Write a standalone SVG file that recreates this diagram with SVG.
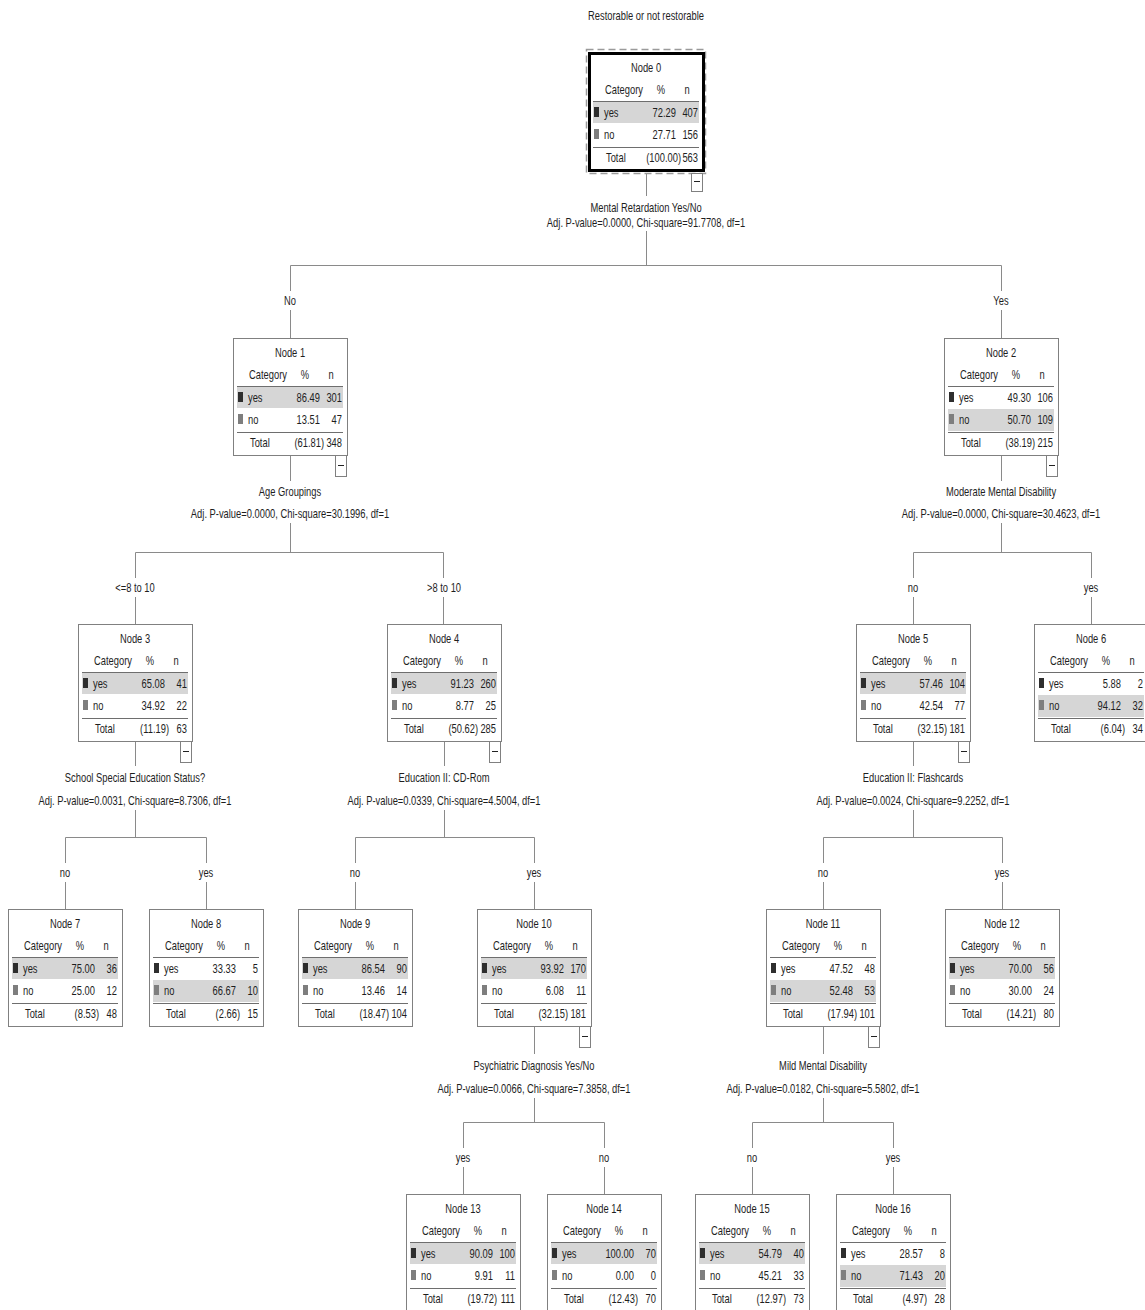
<svg xmlns="http://www.w3.org/2000/svg" width="1145" height="1310" viewBox="0 0 1145 1310">
<style>
text{font-family:"Liberation Sans",Arial,sans-serif;font-size:13px;fill:#1e1e1e}
.m{text-anchor:middle}
.e{text-anchor:end}
.box{fill:#fff;stroke:#808080;stroke-width:1}
.band{fill:#d6d6d6}
.sep{stroke:#6e6e6e;stroke-width:1;fill:none}
.mk1{fill:#2e2e2e}
.mk2{fill:#7e7e7e}
.col{fill:#fff;stroke:#808080;stroke-width:1}
.minus{stroke:#222;stroke-width:1;fill:none}
#connectors path{stroke:#8a8a8a;stroke-width:1;fill:none}
</style>
<rect width="1145" height="1310" fill="#fff"/>
<text class="m" transform="translate(646 19.5) scale(.72 1)">Restorable or not restorable</text>

<g id="connectors">
<path d="M646.5 173V196M646.5 231V265.5M290.5 265.5H1001.5M290.5 265.5V291M290.5 310V338M1001.5 265.5V291M1001.5 310V338"/>
<path d="M290.5 456V481M290.5 523V552.5M135.5 552.5H443.5M135.5 552.5V578M135.5 597V624M443.5 552.5V578M443.5 597V624"/>
<path d="M1001.5 456V481M1001.5 523V552.5M913.5 552.5H1091.5M913.5 552.5V578M913.5 597V624M1091.5 552.5V578M1091.5 597V624"/>
<path d="M135.5 741V766M135.5 810V837.5M65.5 837.5H206.5M65.5 837.5V863M65.5 882V909M206.5 837.5V863M206.5 882V909"/>
<path d="M444.5 741V766M444.5 810V837.5M355.5 837.5H534.5M355.5 837.5V863M355.5 882V909M534.5 837.5V863M534.5 882V909"/>
<path d="M913.5 741V766M913.5 810V837.5M823.5 837.5H1002.5M823.5 837.5V863M823.5 882V909M1002.5 837.5V863M1002.5 882V909"/>
<path d="M534.5 1026V1054M534.5 1098V1122.5M463.5 1122.5H604.5M463.5 1122.5V1148M463.5 1167V1194M604.5 1122.5V1148M604.5 1167V1194"/>
<path d="M823.5 1026V1054M823.5 1098V1122.5M752.5 1122.5H893.5M752.5 1122.5V1148M752.5 1167V1194M893.5 1122.5V1148M893.5 1167V1194"/>
<text class="m" transform="translate(646 211.5) scale(.72 1)">Mental Retardation Yes/No</text>
<text class="m" transform="translate(646 226.5) scale(.72 1)">Adj. P-value=0.0000, Chi-square=91.7708, df=1</text>
<text class="m" transform="translate(290 304.5) scale(.72 1)">No</text>
<text class="m" transform="translate(1001 304.5) scale(.72 1)">Yes</text>
<text class="m" transform="translate(290 495.5) scale(.72 1)">Age Groupings</text>
<text class="m" transform="translate(290 517.5) scale(.72 1)">Adj. P-value=0.0000, Chi-square=30.1996, df=1</text>
<text class="m" transform="translate(135 591.5) scale(.72 1)">&lt;=8 to 10</text>
<text class="m" transform="translate(444 591.5) scale(.72 1)">&gt;8 to 10</text>
<text class="m" transform="translate(1001 495.5) scale(.72 1)">Moderate Mental Disability</text>
<text class="m" transform="translate(1001 517.5) scale(.72 1)">Adj. P-value=0.0000, Chi-square=30.4623, df=1</text>
<text class="m" transform="translate(913 591.5) scale(.72 1)">no</text>
<text class="m" transform="translate(1091 591.5) scale(.72 1)">yes</text>
<text class="m" transform="translate(135 781.5) scale(.72 1)">School Special Education Status?</text>
<text class="m" transform="translate(135 804.5) scale(.72 1)">Adj. P-value=0.0031, Chi-square=8.7306, df=1</text>
<text class="m" transform="translate(65 876.5) scale(.72 1)">no</text>
<text class="m" transform="translate(206 876.5) scale(.72 1)">yes</text>
<text class="m" transform="translate(444 781.5) scale(.72 1)">Education II: CD-Rom</text>
<text class="m" transform="translate(444 804.5) scale(.72 1)">Adj. P-value=0.0339, Chi-square=4.5004, df=1</text>
<text class="m" transform="translate(355 876.5) scale(.72 1)">no</text>
<text class="m" transform="translate(534 876.5) scale(.72 1)">yes</text>
<text class="m" transform="translate(913 781.5) scale(.72 1)">Education II: Flashcards</text>
<text class="m" transform="translate(913 804.5) scale(.72 1)">Adj. P-value=0.0024, Chi-square=9.2252, df=1</text>
<text class="m" transform="translate(823 876.5) scale(.72 1)">no</text>
<text class="m" transform="translate(1002 876.5) scale(.72 1)">yes</text>
<text class="m" transform="translate(534 1069.5) scale(.72 1)">Psychiatric Diagnosis Yes/No</text>
<text class="m" transform="translate(534 1092.5) scale(.72 1)">Adj. P-value=0.0066, Chi-square=7.3858, df=1</text>
<text class="m" transform="translate(463 1161.5) scale(.72 1)">yes</text>
<text class="m" transform="translate(604 1161.5) scale(.72 1)">no</text>
<text class="m" transform="translate(823 1069.5) scale(.72 1)">Mild Mental Disability</text>
<text class="m" transform="translate(823 1092.5) scale(.72 1)">Adj. P-value=0.0182, Chi-square=5.5802, df=1</text>
<text class="m" transform="translate(752 1161.5) scale(.72 1)">no</text>
<text class="m" transform="translate(893 1161.5) scale(.72 1)">yes</text>
</g>

<g id="node0" transform="translate(589 53)">
<rect x="-2.5" y="-3.5" width="119" height="124" fill="#fff" stroke="#9a9a9a" stroke-width="1.5" stroke-dasharray="7 4"/>
<rect x="0.5" y="0.5" width="114" height="117" fill="#fff" stroke="#000" stroke-width="3"/>
<rect class="band" x="4" y="48" width="106" height="22"/>
<path class="sep" d="M4 48.5H110M4 94.5H110"/>
<rect class="mk1" x="5" y="54" width="5" height="10"/><rect class="mk2" x="5" y="76" width="5" height="10"/>
<text class="m" transform="translate(57 18.5) scale(.72 1)">Node 0</text>
<text transform="translate(16 40.5) scale(.72 1)">Category</text>
<text class="m" transform="translate(72 40.5) scale(.72 1)">%</text>
<text class="m" transform="translate(98 40.5) scale(.72 1)">n</text>
<text transform="translate(15 63.5) scale(.72 1)">yes</text>
<text class="e" transform="translate(87 63.5) scale(.72 1)">72.29</text>
<text class="e" transform="translate(109 63.5) scale(.72 1)">407</text>
<text transform="translate(15 85.5) scale(.72 1)">no</text>
<text class="e" transform="translate(87 85.5) scale(.72 1)">27.71</text>
<text class="e" transform="translate(109 85.5) scale(.72 1)">156</text>
<text transform="translate(17 108.5) scale(.72 1)">Total</text>
<text class="e" transform="translate(92 108.5) scale(.72 1)">(100.00)</text>
<text class="e" transform="translate(109 108.5) scale(.72 1)">563</text>
<rect class="col" x="102.5" y="120.5" width="11" height="18"/><path class="minus" d="M105 128.5H111"/>
</g>

<g id="node1" transform="translate(233 338)">
<rect class="box" x="0.5" y="0.5" width="114" height="117"/>
<rect class="band" x="4" y="48" width="106" height="22"/>
<path class="sep" d="M4 48.5H110M4 94.5H110"/>
<rect class="mk1" x="5" y="54" width="5" height="10"/><rect class="mk2" x="5" y="76" width="5" height="10"/>
<text class="m" transform="translate(57 18.5) scale(.72 1)">Node 1</text>
<text transform="translate(16 40.5) scale(.72 1)">Category</text>
<text class="m" transform="translate(72 40.5) scale(.72 1)">%</text>
<text class="m" transform="translate(98 40.5) scale(.72 1)">n</text>
<text transform="translate(15 63.5) scale(.72 1)">yes</text>
<text class="e" transform="translate(87 63.5) scale(.72 1)">86.49</text>
<text class="e" transform="translate(109 63.5) scale(.72 1)">301</text>
<text transform="translate(15 85.5) scale(.72 1)">no</text>
<text class="e" transform="translate(87 85.5) scale(.72 1)">13.51</text>
<text class="e" transform="translate(109 85.5) scale(.72 1)">47</text>
<text transform="translate(17 108.5) scale(.72 1)">Total</text>
<text class="e" transform="translate(91 108.5) scale(.72 1)">(61.81)</text>
<text class="e" transform="translate(109 108.5) scale(.72 1)">348</text>
<rect class="col" x="102.5" y="117.5" width="11" height="21"/><path class="minus" d="M105 127.5H111"/>
</g>

<g id="node2" transform="translate(944 338)">
<rect class="box" x="0.5" y="0.5" width="114" height="117"/>
<rect class="band" x="4" y="71" width="106" height="22"/>
<path class="sep" d="M4 48.5H110M4 94.5H110"/>
<rect class="mk1" x="5" y="54" width="5" height="10"/><rect class="mk2" x="5" y="76" width="5" height="10"/>
<text class="m" transform="translate(57 18.5) scale(.72 1)">Node 2</text>
<text transform="translate(16 40.5) scale(.72 1)">Category</text>
<text class="m" transform="translate(72 40.5) scale(.72 1)">%</text>
<text class="m" transform="translate(98 40.5) scale(.72 1)">n</text>
<text transform="translate(15 63.5) scale(.72 1)">yes</text>
<text class="e" transform="translate(87 63.5) scale(.72 1)">49.30</text>
<text class="e" transform="translate(109 63.5) scale(.72 1)">106</text>
<text transform="translate(15 85.5) scale(.72 1)">no</text>
<text class="e" transform="translate(87 85.5) scale(.72 1)">50.70</text>
<text class="e" transform="translate(109 85.5) scale(.72 1)">109</text>
<text transform="translate(17 108.5) scale(.72 1)">Total</text>
<text class="e" transform="translate(91 108.5) scale(.72 1)">(38.19)</text>
<text class="e" transform="translate(109 108.5) scale(.72 1)">215</text>
<rect class="col" x="102.5" y="117.5" width="11" height="21"/><path class="minus" d="M105 127.5H111"/>
</g>

<g id="node3" transform="translate(78 624)">
<rect class="box" x="0.5" y="0.5" width="114" height="117"/>
<rect class="band" x="4" y="48" width="106" height="22"/>
<path class="sep" d="M4 48.5H110M4 94.5H110"/>
<rect class="mk1" x="5" y="54" width="5" height="10"/><rect class="mk2" x="5" y="76" width="5" height="10"/>
<text class="m" transform="translate(57 18.5) scale(.72 1)">Node 3</text>
<text transform="translate(16 40.5) scale(.72 1)">Category</text>
<text class="m" transform="translate(72 40.5) scale(.72 1)">%</text>
<text class="m" transform="translate(98 40.5) scale(.72 1)">n</text>
<text transform="translate(15 63.5) scale(.72 1)">yes</text>
<text class="e" transform="translate(87 63.5) scale(.72 1)">65.08</text>
<text class="e" transform="translate(109 63.5) scale(.72 1)">41</text>
<text transform="translate(15 85.5) scale(.72 1)">no</text>
<text class="e" transform="translate(87 85.5) scale(.72 1)">34.92</text>
<text class="e" transform="translate(109 85.5) scale(.72 1)">22</text>
<text transform="translate(17 108.5) scale(.72 1)">Total</text>
<text class="e" transform="translate(91 108.5) scale(.72 1)">(11.19)</text>
<text class="e" transform="translate(109 108.5) scale(.72 1)">63</text>
<rect class="col" x="102.5" y="117.5" width="11" height="21"/><path class="minus" d="M105 127.5H111"/>
</g>

<g id="node4" transform="translate(387 624)">
<rect class="box" x="0.5" y="0.5" width="114" height="117"/>
<rect class="band" x="4" y="48" width="106" height="22"/>
<path class="sep" d="M4 48.5H110M4 94.5H110"/>
<rect class="mk1" x="5" y="54" width="5" height="10"/><rect class="mk2" x="5" y="76" width="5" height="10"/>
<text class="m" transform="translate(57 18.5) scale(.72 1)">Node 4</text>
<text transform="translate(16 40.5) scale(.72 1)">Category</text>
<text class="m" transform="translate(72 40.5) scale(.72 1)">%</text>
<text class="m" transform="translate(98 40.5) scale(.72 1)">n</text>
<text transform="translate(15 63.5) scale(.72 1)">yes</text>
<text class="e" transform="translate(87 63.5) scale(.72 1)">91.23</text>
<text class="e" transform="translate(109 63.5) scale(.72 1)">260</text>
<text transform="translate(15 85.5) scale(.72 1)">no</text>
<text class="e" transform="translate(87 85.5) scale(.72 1)">8.77</text>
<text class="e" transform="translate(109 85.5) scale(.72 1)">25</text>
<text transform="translate(17 108.5) scale(.72 1)">Total</text>
<text class="e" transform="translate(91 108.5) scale(.72 1)">(50.62)</text>
<text class="e" transform="translate(109 108.5) scale(.72 1)">285</text>
<rect class="col" x="102.5" y="117.5" width="11" height="21"/><path class="minus" d="M105 127.5H111"/>
</g>

<g id="node5" transform="translate(856 624)">
<rect class="box" x="0.5" y="0.5" width="114" height="117"/>
<rect class="band" x="4" y="48" width="106" height="22"/>
<path class="sep" d="M4 48.5H110M4 94.5H110"/>
<rect class="mk1" x="5" y="54" width="5" height="10"/><rect class="mk2" x="5" y="76" width="5" height="10"/>
<text class="m" transform="translate(57 18.5) scale(.72 1)">Node 5</text>
<text transform="translate(16 40.5) scale(.72 1)">Category</text>
<text class="m" transform="translate(72 40.5) scale(.72 1)">%</text>
<text class="m" transform="translate(98 40.5) scale(.72 1)">n</text>
<text transform="translate(15 63.5) scale(.72 1)">yes</text>
<text class="e" transform="translate(87 63.5) scale(.72 1)">57.46</text>
<text class="e" transform="translate(109 63.5) scale(.72 1)">104</text>
<text transform="translate(15 85.5) scale(.72 1)">no</text>
<text class="e" transform="translate(87 85.5) scale(.72 1)">42.54</text>
<text class="e" transform="translate(109 85.5) scale(.72 1)">77</text>
<text transform="translate(17 108.5) scale(.72 1)">Total</text>
<text class="e" transform="translate(91 108.5) scale(.72 1)">(32.15)</text>
<text class="e" transform="translate(109 108.5) scale(.72 1)">181</text>
<rect class="col" x="102.5" y="117.5" width="11" height="21"/><path class="minus" d="M105 127.5H111"/>
</g>

<g id="node6" transform="translate(1034 624)">
<rect class="box" x="0.5" y="0.5" width="114" height="117"/>
<rect class="band" x="4" y="71" width="106" height="22"/>
<path class="sep" d="M4 48.5H110M4 94.5H110"/>
<rect class="mk1" x="5" y="54" width="5" height="10"/><rect class="mk2" x="5" y="76" width="5" height="10"/>
<text class="m" transform="translate(57 18.5) scale(.72 1)">Node 6</text>
<text transform="translate(16 40.5) scale(.72 1)">Category</text>
<text class="m" transform="translate(72 40.5) scale(.72 1)">%</text>
<text class="m" transform="translate(98 40.5) scale(.72 1)">n</text>
<text transform="translate(15 63.5) scale(.72 1)">yes</text>
<text class="e" transform="translate(87 63.5) scale(.72 1)">5.88</text>
<text class="e" transform="translate(109 63.5) scale(.72 1)">2</text>
<text transform="translate(15 85.5) scale(.72 1)">no</text>
<text class="e" transform="translate(87 85.5) scale(.72 1)">94.12</text>
<text class="e" transform="translate(109 85.5) scale(.72 1)">32</text>
<text transform="translate(17 108.5) scale(.72 1)">Total</text>
<text class="e" transform="translate(91 108.5) scale(.72 1)">(6.04)</text>
<text class="e" transform="translate(109 108.5) scale(.72 1)">34</text>
</g>

<g id="node7" transform="translate(8 909)">
<rect class="box" x="0.5" y="0.5" width="114" height="117"/>
<rect class="band" x="4" y="48" width="106" height="22"/>
<path class="sep" d="M4 48.5H110M4 94.5H110"/>
<rect class="mk1" x="5" y="54" width="5" height="10"/><rect class="mk2" x="5" y="76" width="5" height="10"/>
<text class="m" transform="translate(57 18.5) scale(.72 1)">Node 7</text>
<text transform="translate(16 40.5) scale(.72 1)">Category</text>
<text class="m" transform="translate(72 40.5) scale(.72 1)">%</text>
<text class="m" transform="translate(98 40.5) scale(.72 1)">n</text>
<text transform="translate(15 63.5) scale(.72 1)">yes</text>
<text class="e" transform="translate(87 63.5) scale(.72 1)">75.00</text>
<text class="e" transform="translate(109 63.5) scale(.72 1)">36</text>
<text transform="translate(15 85.5) scale(.72 1)">no</text>
<text class="e" transform="translate(87 85.5) scale(.72 1)">25.00</text>
<text class="e" transform="translate(109 85.5) scale(.72 1)">12</text>
<text transform="translate(17 108.5) scale(.72 1)">Total</text>
<text class="e" transform="translate(91 108.5) scale(.72 1)">(8.53)</text>
<text class="e" transform="translate(109 108.5) scale(.72 1)">48</text>
</g>

<g id="node8" transform="translate(149 909)">
<rect class="box" x="0.5" y="0.5" width="114" height="117"/>
<rect class="band" x="4" y="71" width="106" height="22"/>
<path class="sep" d="M4 48.5H110M4 94.5H110"/>
<rect class="mk1" x="5" y="54" width="5" height="10"/><rect class="mk2" x="5" y="76" width="5" height="10"/>
<text class="m" transform="translate(57 18.5) scale(.72 1)">Node 8</text>
<text transform="translate(16 40.5) scale(.72 1)">Category</text>
<text class="m" transform="translate(72 40.5) scale(.72 1)">%</text>
<text class="m" transform="translate(98 40.5) scale(.72 1)">n</text>
<text transform="translate(15 63.5) scale(.72 1)">yes</text>
<text class="e" transform="translate(87 63.5) scale(.72 1)">33.33</text>
<text class="e" transform="translate(109 63.5) scale(.72 1)">5</text>
<text transform="translate(15 85.5) scale(.72 1)">no</text>
<text class="e" transform="translate(87 85.5) scale(.72 1)">66.67</text>
<text class="e" transform="translate(109 85.5) scale(.72 1)">10</text>
<text transform="translate(17 108.5) scale(.72 1)">Total</text>
<text class="e" transform="translate(91 108.5) scale(.72 1)">(2.66)</text>
<text class="e" transform="translate(109 108.5) scale(.72 1)">15</text>
</g>

<g id="node9" transform="translate(298 909)">
<rect class="box" x="0.5" y="0.5" width="114" height="117"/>
<rect class="band" x="4" y="48" width="106" height="22"/>
<path class="sep" d="M4 48.5H110M4 94.5H110"/>
<rect class="mk1" x="5" y="54" width="5" height="10"/><rect class="mk2" x="5" y="76" width="5" height="10"/>
<text class="m" transform="translate(57 18.5) scale(.72 1)">Node 9</text>
<text transform="translate(16 40.5) scale(.72 1)">Category</text>
<text class="m" transform="translate(72 40.5) scale(.72 1)">%</text>
<text class="m" transform="translate(98 40.5) scale(.72 1)">n</text>
<text transform="translate(15 63.5) scale(.72 1)">yes</text>
<text class="e" transform="translate(87 63.5) scale(.72 1)">86.54</text>
<text class="e" transform="translate(109 63.5) scale(.72 1)">90</text>
<text transform="translate(15 85.5) scale(.72 1)">no</text>
<text class="e" transform="translate(87 85.5) scale(.72 1)">13.46</text>
<text class="e" transform="translate(109 85.5) scale(.72 1)">14</text>
<text transform="translate(17 108.5) scale(.72 1)">Total</text>
<text class="e" transform="translate(91 108.5) scale(.72 1)">(18.47)</text>
<text class="e" transform="translate(109 108.5) scale(.72 1)">104</text>
</g>

<g id="node10" transform="translate(477 909)">
<rect class="box" x="0.5" y="0.5" width="114" height="117"/>
<rect class="band" x="4" y="48" width="106" height="22"/>
<path class="sep" d="M4 48.5H110M4 94.5H110"/>
<rect class="mk1" x="5" y="54" width="5" height="10"/><rect class="mk2" x="5" y="76" width="5" height="10"/>
<text class="m" transform="translate(57 18.5) scale(.72 1)">Node 10</text>
<text transform="translate(16 40.5) scale(.72 1)">Category</text>
<text class="m" transform="translate(72 40.5) scale(.72 1)">%</text>
<text class="m" transform="translate(98 40.5) scale(.72 1)">n</text>
<text transform="translate(15 63.5) scale(.72 1)">yes</text>
<text class="e" transform="translate(87 63.5) scale(.72 1)">93.92</text>
<text class="e" transform="translate(109 63.5) scale(.72 1)">170</text>
<text transform="translate(15 85.5) scale(.72 1)">no</text>
<text class="e" transform="translate(87 85.5) scale(.72 1)">6.08</text>
<text class="e" transform="translate(109 85.5) scale(.72 1)">11</text>
<text transform="translate(17 108.5) scale(.72 1)">Total</text>
<text class="e" transform="translate(91 108.5) scale(.72 1)">(32.15)</text>
<text class="e" transform="translate(109 108.5) scale(.72 1)">181</text>
<rect class="col" x="102.5" y="117.5" width="11" height="21"/><path class="minus" d="M105 127.5H111"/>
</g>

<g id="node11" transform="translate(766 909)">
<rect class="box" x="0.5" y="0.5" width="114" height="117"/>
<rect class="band" x="4" y="71" width="106" height="22"/>
<path class="sep" d="M4 48.5H110M4 94.5H110"/>
<rect class="mk1" x="5" y="54" width="5" height="10"/><rect class="mk2" x="5" y="76" width="5" height="10"/>
<text class="m" transform="translate(57 18.5) scale(.72 1)">Node 11</text>
<text transform="translate(16 40.5) scale(.72 1)">Category</text>
<text class="m" transform="translate(72 40.5) scale(.72 1)">%</text>
<text class="m" transform="translate(98 40.5) scale(.72 1)">n</text>
<text transform="translate(15 63.5) scale(.72 1)">yes</text>
<text class="e" transform="translate(87 63.5) scale(.72 1)">47.52</text>
<text class="e" transform="translate(109 63.5) scale(.72 1)">48</text>
<text transform="translate(15 85.5) scale(.72 1)">no</text>
<text class="e" transform="translate(87 85.5) scale(.72 1)">52.48</text>
<text class="e" transform="translate(109 85.5) scale(.72 1)">53</text>
<text transform="translate(17 108.5) scale(.72 1)">Total</text>
<text class="e" transform="translate(91 108.5) scale(.72 1)">(17.94)</text>
<text class="e" transform="translate(109 108.5) scale(.72 1)">101</text>
<rect class="col" x="102.5" y="117.5" width="11" height="21"/><path class="minus" d="M105 127.5H111"/>
</g>

<g id="node12" transform="translate(945 909)">
<rect class="box" x="0.5" y="0.5" width="114" height="117"/>
<rect class="band" x="4" y="48" width="106" height="22"/>
<path class="sep" d="M4 48.5H110M4 94.5H110"/>
<rect class="mk1" x="5" y="54" width="5" height="10"/><rect class="mk2" x="5" y="76" width="5" height="10"/>
<text class="m" transform="translate(57 18.5) scale(.72 1)">Node 12</text>
<text transform="translate(16 40.5) scale(.72 1)">Category</text>
<text class="m" transform="translate(72 40.5) scale(.72 1)">%</text>
<text class="m" transform="translate(98 40.5) scale(.72 1)">n</text>
<text transform="translate(15 63.5) scale(.72 1)">yes</text>
<text class="e" transform="translate(87 63.5) scale(.72 1)">70.00</text>
<text class="e" transform="translate(109 63.5) scale(.72 1)">56</text>
<text transform="translate(15 85.5) scale(.72 1)">no</text>
<text class="e" transform="translate(87 85.5) scale(.72 1)">30.00</text>
<text class="e" transform="translate(109 85.5) scale(.72 1)">24</text>
<text transform="translate(17 108.5) scale(.72 1)">Total</text>
<text class="e" transform="translate(91 108.5) scale(.72 1)">(14.21)</text>
<text class="e" transform="translate(109 108.5) scale(.72 1)">80</text>
</g>

<g id="node13" transform="translate(406 1194)">
<rect class="box" x="0.5" y="0.5" width="114" height="117"/>
<rect class="band" x="4" y="48" width="106" height="22"/>
<path class="sep" d="M4 48.5H110M4 94.5H110"/>
<rect class="mk1" x="5" y="54" width="5" height="10"/><rect class="mk2" x="5" y="76" width="5" height="10"/>
<text class="m" transform="translate(57 18.5) scale(.72 1)">Node 13</text>
<text transform="translate(16 40.5) scale(.72 1)">Category</text>
<text class="m" transform="translate(72 40.5) scale(.72 1)">%</text>
<text class="m" transform="translate(98 40.5) scale(.72 1)">n</text>
<text transform="translate(15 63.5) scale(.72 1)">yes</text>
<text class="e" transform="translate(87 63.5) scale(.72 1)">90.09</text>
<text class="e" transform="translate(109 63.5) scale(.72 1)">100</text>
<text transform="translate(15 85.5) scale(.72 1)">no</text>
<text class="e" transform="translate(87 85.5) scale(.72 1)">9.91</text>
<text class="e" transform="translate(109 85.5) scale(.72 1)">11</text>
<text transform="translate(17 108.5) scale(.72 1)">Total</text>
<text class="e" transform="translate(91 108.5) scale(.72 1)">(19.72)</text>
<text class="e" transform="translate(109 108.5) scale(.72 1)">111</text>
</g>

<g id="node14" transform="translate(547 1194)">
<rect class="box" x="0.5" y="0.5" width="114" height="117"/>
<rect class="band" x="4" y="48" width="106" height="22"/>
<path class="sep" d="M4 48.5H110M4 94.5H110"/>
<rect class="mk1" x="5" y="54" width="5" height="10"/><rect class="mk2" x="5" y="76" width="5" height="10"/>
<text class="m" transform="translate(57 18.5) scale(.72 1)">Node 14</text>
<text transform="translate(16 40.5) scale(.72 1)">Category</text>
<text class="m" transform="translate(72 40.5) scale(.72 1)">%</text>
<text class="m" transform="translate(98 40.5) scale(.72 1)">n</text>
<text transform="translate(15 63.5) scale(.72 1)">yes</text>
<text class="e" transform="translate(87 63.5) scale(.72 1)">100.00</text>
<text class="e" transform="translate(109 63.5) scale(.72 1)">70</text>
<text transform="translate(15 85.5) scale(.72 1)">no</text>
<text class="e" transform="translate(87 85.5) scale(.72 1)">0.00</text>
<text class="e" transform="translate(109 85.5) scale(.72 1)">0</text>
<text transform="translate(17 108.5) scale(.72 1)">Total</text>
<text class="e" transform="translate(91 108.5) scale(.72 1)">(12.43)</text>
<text class="e" transform="translate(109 108.5) scale(.72 1)">70</text>
</g>

<g id="node15" transform="translate(695 1194)">
<rect class="box" x="0.5" y="0.5" width="114" height="117"/>
<rect class="band" x="4" y="48" width="106" height="22"/>
<path class="sep" d="M4 48.5H110M4 94.5H110"/>
<rect class="mk1" x="5" y="54" width="5" height="10"/><rect class="mk2" x="5" y="76" width="5" height="10"/>
<text class="m" transform="translate(57 18.5) scale(.72 1)">Node 15</text>
<text transform="translate(16 40.5) scale(.72 1)">Category</text>
<text class="m" transform="translate(72 40.5) scale(.72 1)">%</text>
<text class="m" transform="translate(98 40.5) scale(.72 1)">n</text>
<text transform="translate(15 63.5) scale(.72 1)">yes</text>
<text class="e" transform="translate(87 63.5) scale(.72 1)">54.79</text>
<text class="e" transform="translate(109 63.5) scale(.72 1)">40</text>
<text transform="translate(15 85.5) scale(.72 1)">no</text>
<text class="e" transform="translate(87 85.5) scale(.72 1)">45.21</text>
<text class="e" transform="translate(109 85.5) scale(.72 1)">33</text>
<text transform="translate(17 108.5) scale(.72 1)">Total</text>
<text class="e" transform="translate(91 108.5) scale(.72 1)">(12.97)</text>
<text class="e" transform="translate(109 108.5) scale(.72 1)">73</text>
</g>

<g id="node16" transform="translate(836 1194)">
<rect class="box" x="0.5" y="0.5" width="114" height="117"/>
<rect class="band" x="4" y="71" width="106" height="22"/>
<path class="sep" d="M4 48.5H110M4 94.5H110"/>
<rect class="mk1" x="5" y="54" width="5" height="10"/><rect class="mk2" x="5" y="76" width="5" height="10"/>
<text class="m" transform="translate(57 18.5) scale(.72 1)">Node 16</text>
<text transform="translate(16 40.5) scale(.72 1)">Category</text>
<text class="m" transform="translate(72 40.5) scale(.72 1)">%</text>
<text class="m" transform="translate(98 40.5) scale(.72 1)">n</text>
<text transform="translate(15 63.5) scale(.72 1)">yes</text>
<text class="e" transform="translate(87 63.5) scale(.72 1)">28.57</text>
<text class="e" transform="translate(109 63.5) scale(.72 1)">8</text>
<text transform="translate(15 85.5) scale(.72 1)">no</text>
<text class="e" transform="translate(87 85.5) scale(.72 1)">71.43</text>
<text class="e" transform="translate(109 85.5) scale(.72 1)">20</text>
<text transform="translate(17 108.5) scale(.72 1)">Total</text>
<text class="e" transform="translate(91 108.5) scale(.72 1)">(4.97)</text>
<text class="e" transform="translate(109 108.5) scale(.72 1)">28</text>
</g>
</svg>
